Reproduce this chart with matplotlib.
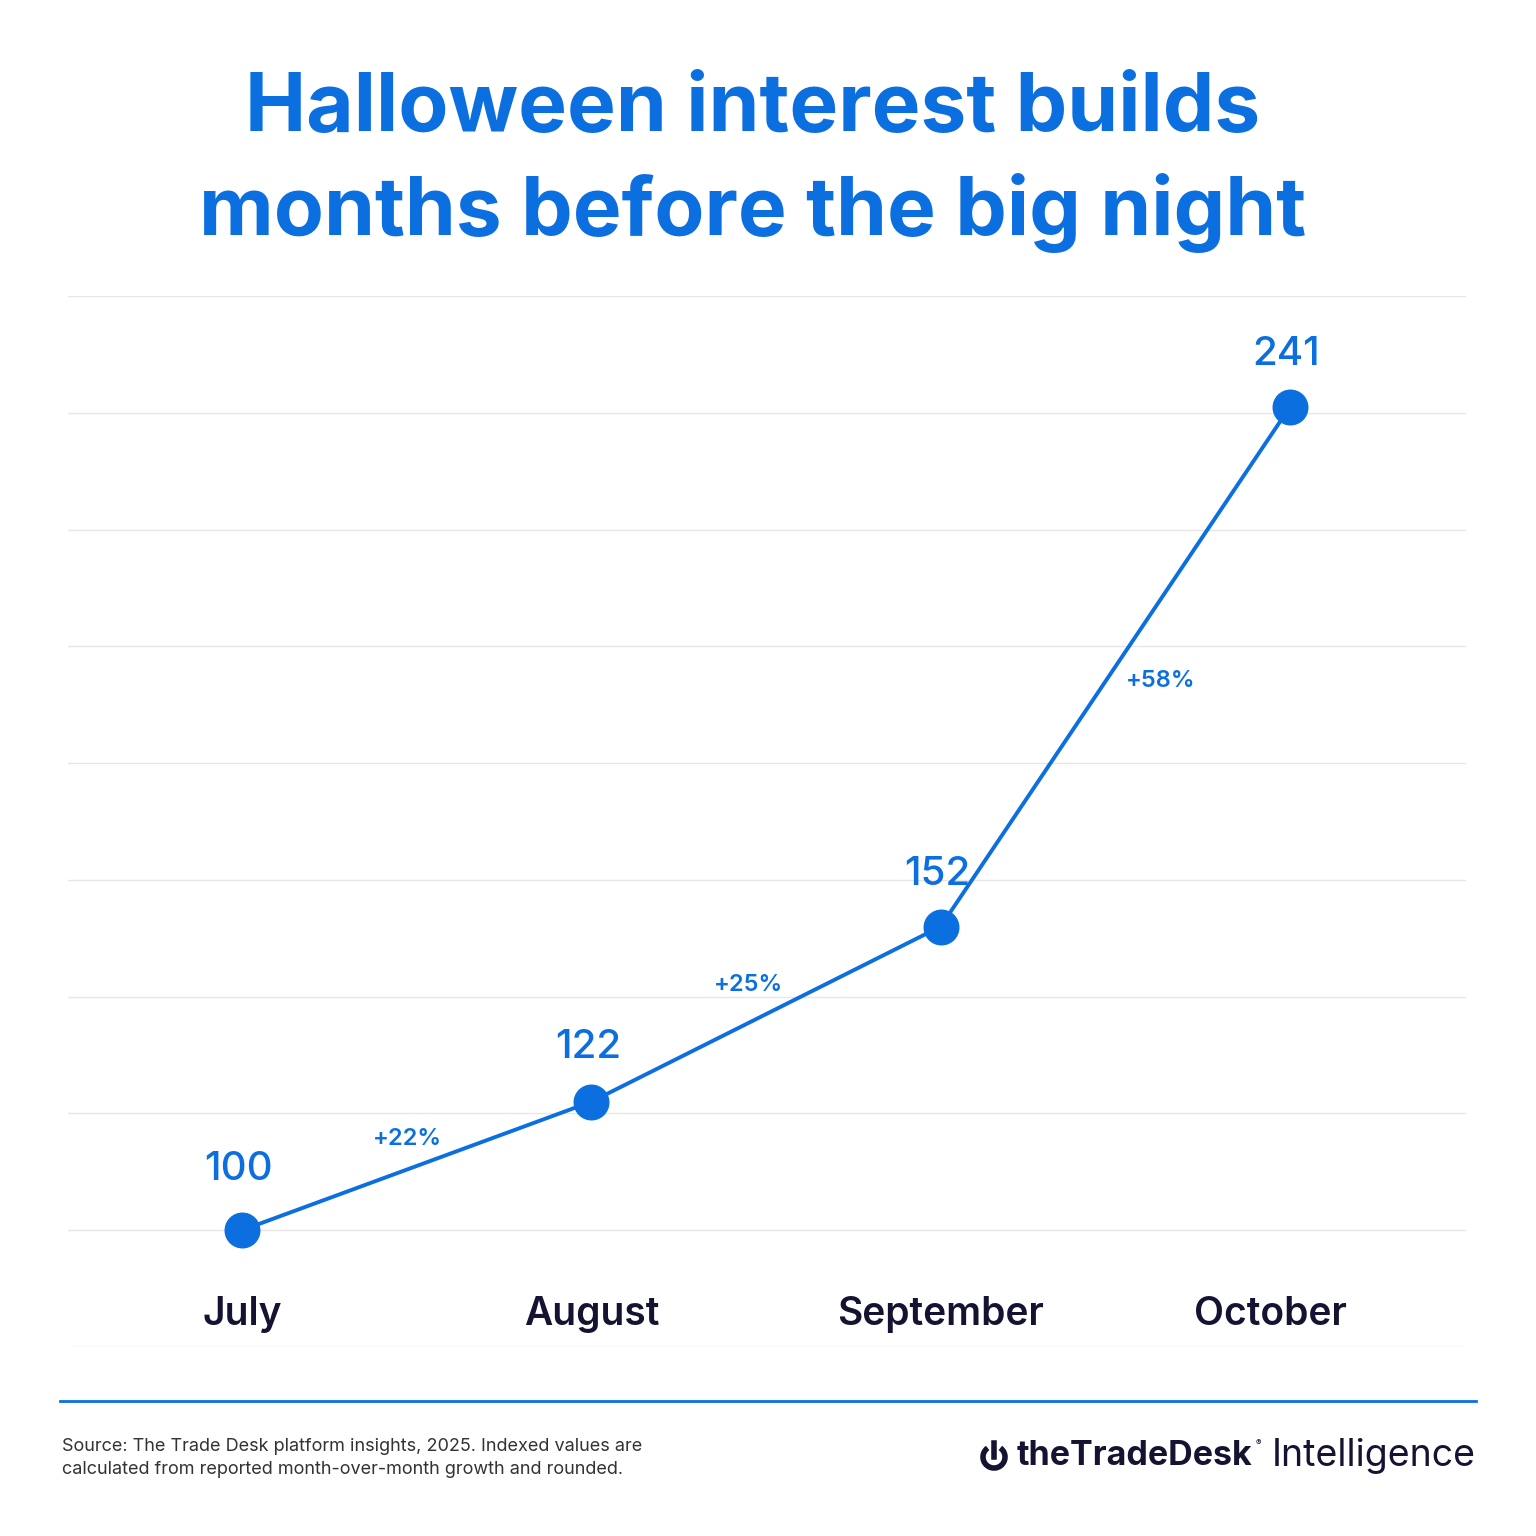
import matplotlib
matplotlib.use("Agg")
import matplotlib.pyplot as plt
from matplotlib.lines import Line2D
from matplotlib.patches import Arc

months = ["July", "August", "September", "October"]
values = [100, 122, 152, 241]
growth = ["+22%", "+25%", "+58%"]
grid_ticks = list(range(80, 261, 20))

BLUE = "#0B6FE0"
NAVY = "#141432"
plt.rcParams['font.family'] = ['Inter', 'DejaVu Sans']

W = 1536
fig = plt.figure(figsize=(15.36, 15.36), dpi=100)
fig.patch.set_facecolor("white")
ax = fig.add_axes([68/W, 1-1347/W, 1398/W, 1051/W])
ax.set_xlim(-0.498, 3.504)
ax.set_ylim(80, 260)
for s in ax.spines.values():
    s.set_visible(False)
ax.set_xticks([]); ax.set_yticks([])
for g in grid_ticks:
    ax.axhline(g, color="#e6e6e6", lw=1, zorder=0)

x = list(range(len(months)))
ax.plot(x, values, color=BLUE, lw=2.8, zorder=2)
ax.scatter(x, values, s=620, color=BLUE, zorder=3)
label_off = [7.2, 6.2, 5.8, 5.8]
for xi, v, o in zip(x, values, label_off):
    ax.text(xi - 0.01, v + o, str(v), ha="center", va="bottom", fontsize=29, color=BLUE, fontweight="medium")
month_x = [0, 1, 2, 2.945]
for mx, m in zip(month_x, months):
    ax.text(mx, 85.6, m, ha="center", va="center", fontsize=28, color=NAVY, fontweight="semibold")
pct_pos = [(0.475, 115.6), (1.45, 142.0), (2.63, 194.0)]
for (px, py), g in zip(pct_pos, growth):
    ax.text(px, py, g, ha="center", va="center", fontsize=17, color=BLUE, fontweight="semibold")

fig.text(0.49, 1-110/W, "Halloween interest builds", ha="center", va="center", fontsize=59, fontweight="bold", color=BLUE)
fig.text(0.49, 1-213/W, "months before the big night", ha="center", va="center", fontsize=59, fontweight="bold", color=BLUE)

fig.add_artist(Line2D([60/W, 1476/W], [1-1401/W, 1-1401/W], color=BLUE, lw=2))
fig.text(62/W, 1-1458/W, "Source: The Trade Desk platform insights, 2025. Indexed values are\ncalculated from reported month-over-month growth and rounded.",
         ha="left", va="center", fontsize=13, color="#333333", linespacing=1.5)
fig.text(1476/W, 1-1456/W, "Intelligence", ha="right", va="center", fontsize=27, color=NAVY)
fig.text(1252/W, 1-1456/W, "theTradeDesk", ha="right", va="center", fontsize=24.5, fontweight="bold", color=NAVY)
fig.text(1256/W, 1-1443/W, "\u00ae", ha="left", va="center", fontsize=6, color=NAVY)
# power-like logo mark drawn as shape
cx, cy, r = 994/W, 1-1457/W, 11/W
fig.add_artist(Arc((cx, cy), 2*r, 2*r, theta1=125, theta2=55, color=NAVY, lw=4, transform=fig.transFigure))
fig.add_artist(Line2D([cx, cx], [cy, cy + 1.25*r], color=NAVY, lw=4))

fig.savefig("out.png", dpi=100, facecolor="white")
